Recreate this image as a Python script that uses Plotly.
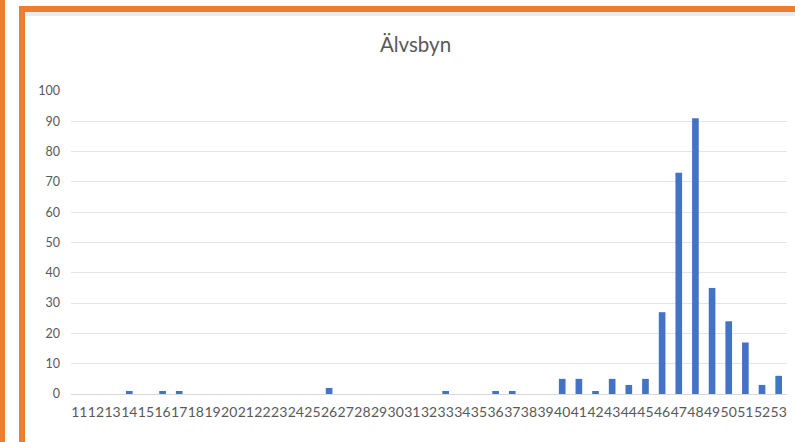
import plotly.graph_objects as go

categories = [str(c) for c in range(11, 54)]
values = [0, 0, 0, 1, 0, 1, 1, 0, 0, 0,
          0, 0, 0, 0, 0, 2, 0, 0, 0, 0,
          0, 0, 1, 0, 0, 1, 1, 0, 0, 5,
          5, 1, 5, 3, 5, 27, 73, 91, 35, 24,
          17, 3, 6]
title_text = "Älvsbyn"
y_ticks = list(range(0, 101, 10))

W, H = 795, 442
L, R, T, B = 71, 8, 91, 48
pw, ph = W - L - R, H - T - B

def px(x):
    return (x - L) / pw

def py(y):
    return (H - B - y) / ph

fig = go.Figure(go.Bar(x=categories, y=values, marker_color="#4472c4",
                       marker_line_width=0))

shapes = [
    # far-left orange strip
    dict(type="rect", xref="paper", yref="paper", x0=px(0), x1=px(5), y0=py(442), y1=py(0),
         fillcolor="#ed7d31", line_width=0, layer="below"),
    # shadow under top border
    dict(type="rect", xref="paper", yref="paper", x0=px(25), x1=px(800), y0=py(16), y1=py(12),
         fillcolor="#ececec", line_width=0, layer="below"),
    # frame left
    dict(type="rect", xref="paper", yref="paper", x0=px(19), x1=px(25), y0=py(442), y1=py(6),
         fillcolor="#ed7d31", line_width=0, layer="below"),
    # frame top
    dict(type="rect", xref="paper", yref="paper", x0=px(19), x1=px(800), y0=py(12), y1=py(6),
         fillcolor="#ed7d31", line_width=0, layer="below"),
]

fig.update_layout(
    width=W, height=H,
    margin=dict(l=L, r=R, t=T, b=B),
    paper_bgcolor="white", plot_bgcolor="white",
    font=dict(family="Lato, Open Sans, sans-serif", color="#595959", size=12),
    title=dict(text=title_text, x=415.5 / W, xanchor="center", y=1 - 45 / H, yanchor="middle",
               font=dict(size=20.5, color="#595959")),
    bargap=0.6,
    showlegend=False,
    shapes=shapes,
    xaxis=dict(type="category", showgrid=False, showline=True, linecolor="#d9d9d9",
               linewidth=1, ticks="", tickangle=0, tickmode="array",
               tickvals=categories, ticktext=categories,
               tickfont=dict(size=14, color="#595959"), ticklabelstandoff=5),
    yaxis=dict(range=[0, 100], tickvals=y_ticks, showgrid=True, gridcolor="#e4e4e4",
               gridwidth=1, zeroline=False, showline=False, ticks="",
               tickfont=dict(size=12.5, color="#595959"), ticklabelstandoff=10),
)

fig.write_html("out.html", config={"displayModeBar": False},
               post_script="document.body.style.margin='0';document.body.style.overflow='hidden';")
